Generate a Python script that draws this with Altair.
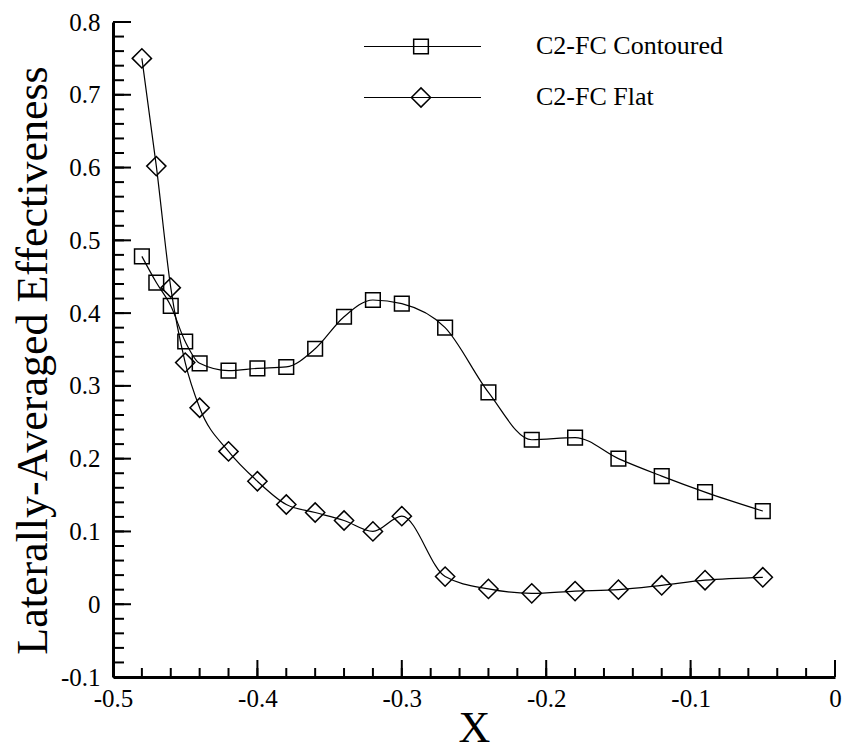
import altair as alt
import pandas as pd

# ---- data ----
x_vals = [-0.48, -0.47, -0.46, -0.45, -0.44, -0.42, -0.40, -0.38, -0.36, -0.34,
          -0.32, -0.30, -0.27, -0.24, -0.21, -0.18, -0.15, -0.12, -0.09, -0.05]
contoured = [0.478, 0.442, 0.410, 0.361, 0.331, 0.321, 0.324, 0.326, 0.351, 0.395,
             0.418, 0.413, 0.380, 0.291, 0.226, 0.229, 0.200, 0.176, 0.154, 0.128]
flat = [0.750, 0.602, 0.435, 0.332, 0.270, 0.210, 0.169, 0.137, 0.126, 0.115,
        0.100, 0.121, 0.038, 0.021, 0.015, 0.018, 0.020, 0.026, 0.033, 0.037]
series_names = ["C2-FC Contoured", "C2-FC Flat"]

y_major = [-0.1, 0, 0.1, 0.2, 0.3, 0.4, 0.5, 0.6, 0.7, 0.8]
y_minor = [round(-0.1 + 0.02 * i, 2) for i in range(46)]
x_major = [-0.5, -0.4, -0.3, -0.2, -0.1, 0]
x_minor = [round(-0.5 + 0.02 * i, 2) for i in range(26)]

df = pd.DataFrame({
    "x": x_vals * 2,
    "y": contoured + flat,
    "series": [series_names[0]] * len(x_vals) + [series_names[1]] * len(x_vals),
})

FONT = "Liberation Serif"
W, H = 722, 655

xs = alt.Scale(domain=[-0.5, 0], nice=False, zero=False)
ys = alt.Scale(domain=[-0.1, 0.8], nice=False, zero=False)

x_axis = alt.Axis(values=x_major, labelExpr="'' + datum.value", ticks=False, grid=False,
                  labelFlush=False, labelOverlap=False,
                  domainColor="black", domainWidth=3, labelFont=FONT, labelFontSize=25,
                  labelColor="black", labelPadding=9, title="X", titleFont=FONT,
                  titleFontSize=44, titleFontWeight="normal", titleColor="black",
                  titleBaseline="alphabetic", titleX=W / 2, titleY=64)
y_axis = alt.Axis(values=y_major, labelExpr="'' + datum.value", ticks=False, grid=False,
                  labelFlush=False, labelOverlap=False,
                  domainColor="black", domainWidth=3, labelFont=FONT, labelFontSize=25,
                  labelColor="black", labelPadding=13,
                  title="Laterally-Averaged Effectiveness", titleFont=FONT,
                  titleFontSize=44, titleFontWeight="normal", titleColor="black",
                  titleAngle=-90, titleBaseline="alphabetic", titleAlign="center",
                  titleX=-67, titleY=338)

base = alt.Chart(df)

lines = base.mark_line(color="black", strokeWidth=1.2, interpolate="monotone").encode(
    x=alt.X("x:Q", scale=xs, axis=x_axis),
    y=alt.Y("y:Q", scale=ys, axis=y_axis),
    detail="series:N",
)

points = base.mark_point(filled=False, color="black", strokeWidth=1.5, opacity=1).encode(
    x=alt.X("x:Q", scale=xs),
    y=alt.Y("y:Q", scale=ys),
    shape=alt.Shape("series:N", scale=alt.Scale(domain=series_names, range=["square", "diamond"]), legend=None),
    size=alt.Size("series:N", scale=alt.Scale(domain=series_names, range=[215, 370]), legend=None),
)

# inward ticks
def yticks(vals, length):
    return alt.Chart(pd.DataFrame({"v": vals})).mark_rule(color="black", strokeWidth=2).encode(
        y=alt.Y("v:Q", scale=ys), x=alt.value(0), x2=alt.value(length))

def xticks(vals, length):
    return alt.Chart(pd.DataFrame({"v": vals})).mark_rule(color="black", strokeWidth=2).encode(
        x=alt.X("v:Q", scale=xs), y=alt.value(H), y2=alt.value(H - length))

ticks = [yticks(y_minor, 11), yticks(y_major, 18), xticks(x_minor, 9), xticks(x_major, 17)]

# legend
leg_df = pd.DataFrame({"series": series_names})
leg_rows = [(46.5, 54), (97.5, 105)]
legend_layers = []
for name, (ly, ty) in zip(series_names, leg_rows):
    ldata = alt.Chart(leg_df).transform_filter(alt.datum.series == name)
    legend_layers.append(ldata.mark_rule(color="black", strokeWidth=1.2).encode(
        x=alt.value(364 - 113), x2=alt.value(481 - 113), y=alt.value(ly - 22)))
    legend_layers.append(ldata.mark_point(filled=False, color="black", strokeWidth=1.5, opacity=1,
                                          shape="square" if name == series_names[0] else "diamond",
                                          size=215 if name == series_names[0] else 370).encode(
        x=alt.value(421 - 113), y=alt.value(ly - 22)))
    legend_layers.append(ldata.mark_text(align="left", baseline="alphabetic", font=FONT,
                                         fontSize=26, color="black").encode(
        x=alt.value(536 - 113), y=alt.value(ty - 22), text="series:N"))

chart = alt.layer(lines, points, *ticks, *legend_layers).properties(
    width=W, height=H,
    autosize=alt.AutoSizeParams(type="none"),
    padding={"left": 113, "top": 22, "right": 13, "bottom": 69},
    background="white",
).configure_view(stroke=None)

chart.save("out.html", embed_options={"renderer": "svg", "actions": False})
